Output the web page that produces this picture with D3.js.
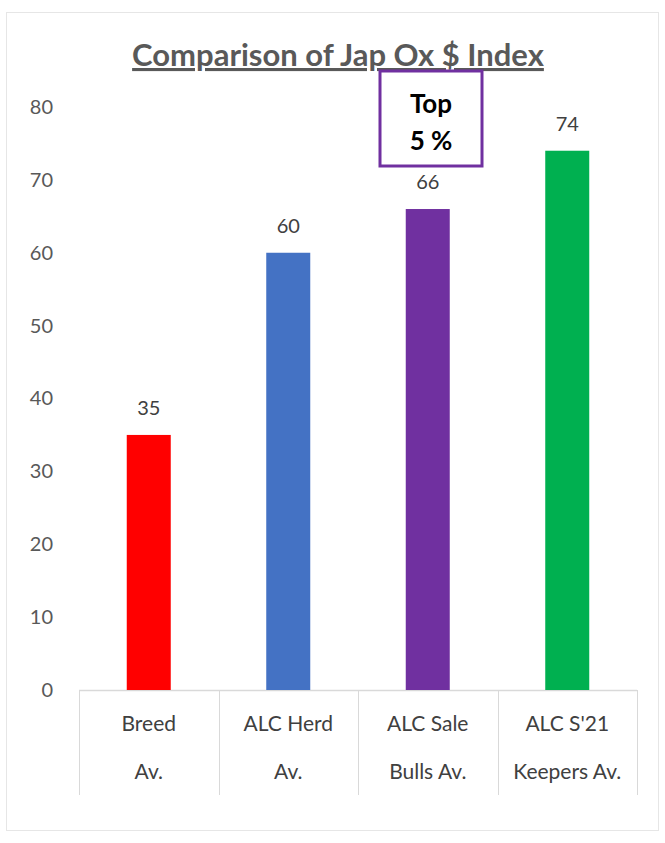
<!DOCTYPE html>
<html><head><meta charset="utf-8">
<script src="https://cdn.jsdelivr.net/npm/d3@7"></script>
<style>
html,body{margin:0;padding:0;background:#fff;}
svg{display:block;}
</style></head>
<body>
<script>
const categories = [["Breed","Av."],["ALC Herd","Av."],["ALC Sale","Bulls Av."],["ALC S'21","Keepers Av."]];
const values = [35, 60, 66, 74];
const colors = ["#FF0000","#4472C4","#7030A0","#00B050"];
const yTicks = [0,10,20,30,40,50,60,70,80];
const title = "Comparison of Jap Ox $ Index";
const note = ["Top","5 %"];

const W = 665, H = 843;
const font = "Lato, 'Open Sans', sans-serif";
const svg = d3.select("body").append("svg").attr("width", W).attr("height", H);

svg.append("rect").attr("x",6.5).attr("y",12.5).attr("width",652).attr("height",818)
  .attr("fill","#fff").attr("stroke","#e6e6e6");

const x = d3.scaleBand().domain(d3.range(categories.length)).range([79, 637]).paddingInner(0).paddingOuter(0);
const y = d3.scaleLinear().domain([0, 80]).range([690, 107]);
const bw = 44;

// y axis
const ya = svg.append("g").attr("transform","translate(53,0)")
  .call(d3.axisLeft(y).tickValues(yTicks).tickSize(0).tickPadding(0));
ya.select(".domain").remove();
ya.selectAll("text").attr("font-family",font).attr("font-size",20).attr("fill","#595959").attr("dy","0.32em");

// baseline
svg.append("line").attr("x1",79).attr("x2",637).attr("y1",y(0)+0.5).attr("y2",y(0)+0.5)
  .attr("stroke","#d9d9d9").attr("stroke-width",1.5);

// category separators
const bounds = d3.range(categories.length+1).map(i => i < categories.length ? x(i) : x(categories.length-1)+x.bandwidth());
svg.selectAll("line.sep").data(bounds).join("line").attr("class","sep")
  .attr("x1",d=>Math.round(d)+0.5).attr("x2",d=>Math.round(d)+0.5)
  .attr("y1",y(0)).attr("y2",795).attr("stroke","#d9d9d9").attr("stroke-width",1);

// bars
svg.selectAll("rect.bar").data(values).join("rect").attr("class","bar")
  .attr("x",(d,i)=>x(i)+x.bandwidth()/2-bw/2).attr("width",bw)
  .attr("y",d=>y(d)).attr("height",d=>y(0)-y(d))
  .attr("fill",(d,i)=>colors[i]);

// value labels
svg.selectAll("text.val").data(values).join("text").attr("class","val")
  .attr("x",(d,i)=>x(i)+x.bandwidth()/2).attr("y",d=>y(d)-20)
  .attr("text-anchor","middle").attr("font-family",font).attr("font-size",20).attr("fill","#404040")
  .text(d=>d);

// category labels
categories.forEach((c,i)=>{
  c.forEach((line,j)=>{
    svg.append("text").attr("x",x(i)+x.bandwidth()/2).attr("y",731+j*48)
      .attr("text-anchor","middle").attr("font-family",font).attr("font-size",21).attr("fill","#404040")
      .text(line);
  });
});

// title
svg.append("text").attr("x",338).attr("y",66).attr("text-anchor","middle")
  .attr("font-family",font).attr("font-size",31).attr("font-weight","bold").attr("fill","#595959")
  .attr("text-decoration","underline").text(title);

// note box
svg.append("rect").attr("x",380).attr("y",71).attr("width",102).attr("height",95)
  .attr("fill","#fff").attr("stroke","#7030A0").attr("stroke-width",3);
note.forEach((n,j)=>{
  svg.append("text").attr("x",431).attr("y",113+j*37).attr("text-anchor","middle")
    .attr("font-family",font).attr("font-size",26).attr("font-weight","bold").attr("fill","#000").text(n);
});
</script>
</body></html>
